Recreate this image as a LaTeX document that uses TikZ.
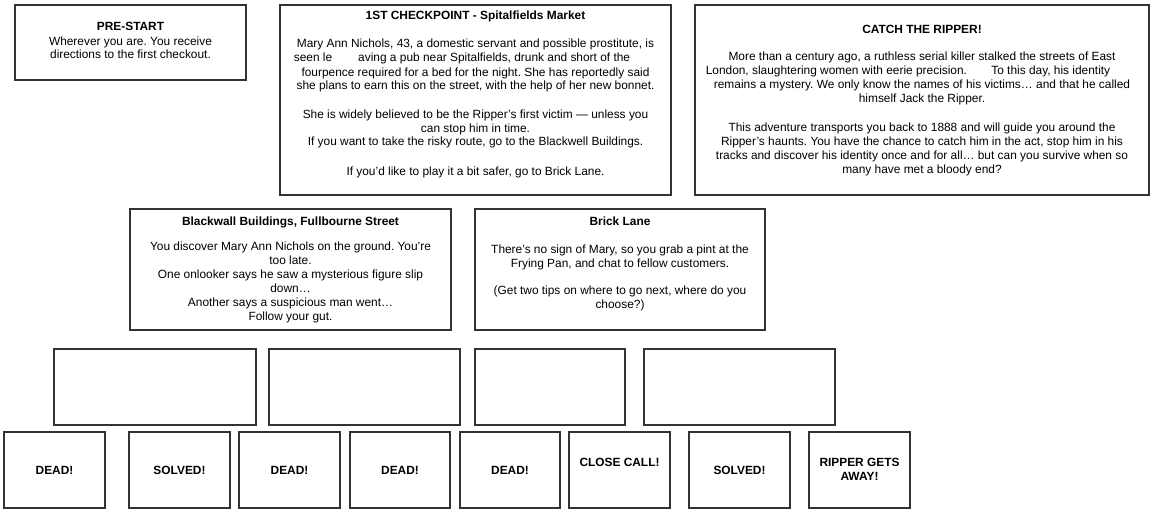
\documentclass[tikz,border=0pt]{standalone}
\usepackage{fontspec}
\setmainfont{Liberation Sans}
\frenchspacing
\newcommand{\cardlines}[1]{\begin{tabular}[t]{@{}c@{}}#1\end{tabular}}
\begin{document}
\begin{tikzpicture}[x=1pt,y=-1pt,
    card/.style={draw=black!80, line width=1.8pt, inner sep=0pt,
      font=\fontsize{11.9}{14}\selectfont},
    clue/.style={card, minimum height=76pt},
    ending/.style={card, minimum width=101pt, text height=42pt, text depth=34pt,
      font=\fontsize{11.9}{14.5}\selectfont\bfseries}]
  \useasboundingbox (0,0) rectangle (1174,527);
  % top row
  \node[card, minimum width=231pt, text height=26pt, text depth=49pt] (prestart) at (130.5,42.5)
    {\cardlines{\textbf{PRE-START}\\Wherever you are. You receive\\directions to the first checkout.}};
  \node[card, minimum width=391pt, text height=15pt, text depth=175pt] (spitalfields) at (475.5,100)
    {\cardlines{\textbf{1ST CHECKPOINT - Spitalfields Market}\\[14pt]
     Mary Ann Nichols, 43, a domestic servant and possible prostitute, is\\
     seen le\hspace*{26pt}aving a pub near Spitalfields, drunk and short of the\hspace*{27pt}\\
     fourpence required for a bed for the night. She has reportedly said\\
     she plans to earn this on the street, with the help of her new bonnet.\\[14pt]
     She is widely believed to be the Ripper's first victim --- unless you\\
     can stop him in time.\\
     If you want to take the risky route, go to the Blackwell Buildings.\\[15pt]
     If you'd like to play it a bit safer, go to Brick Lane.}};
  \node[card, minimum width=454pt, text height=29pt, text depth=161pt] (intro) at (922,100)
    {\cardlines{\textbf{CATCH THE RIPPER!}\\[13pt]
     More than a century ago, a ruthless serial killer stalked the streets of East\\
     London, slaughtering women with eerie precision.\hspace*{21pt} To this day, his identity\hspace*{28pt}\\
     remains a mystery. We only know the names of his victims… and that he called\\
     himself Jack the Ripper.\\[15pt]
     This adventure transports you back to 1888 and will guide you around the\\
     Ripper's haunts. You have the chance to catch him in the act, stop him in his\\
     tracks and discover his identity once and for all… but can you survive when so\\
     many have met a bloody end?}};
  % second row
  \node[card, minimum width=321pt, text height=16pt, text depth=105pt] (blackwall) at (290.5,269.5)
    {\cardlines{\textbf{Blackwall Buildings, Fullbourne Street}\\[11pt]
     You discover Mary Ann Nichols on the ground. You're\\
     too late.\\
     One onlooker says he saw a mysterious figure slip\\
     down…\\
     Another says a suspicious man went…\\
     Follow your gut.}};
  \node[card, minimum width=290pt, text height=16pt, text depth=105pt] (bricklane) at (620,269.5)
    {\cardlines{\textbf{Brick Lane}\\[14pt]
     There's no sign of Mary, so you grab a pint at the\\
     Frying Pan, and chat to fellow customers.\\[13pt]
     (Get two tips on where to go next, where do you\\
     choose?)}};
  % empty clue boxes
  \node[clue, minimum width=202pt] (clueA) at (155,387) {};
  \node[clue, minimum width=191pt] (clueB) at (364.5,387) {};
  \node[clue, minimum width=150pt] (clueC) at (550,387) {};
  \node[clue, minimum width=191pt] (clueD) at (739.5,387) {};
  % endings
  \node[ending] (endA) at (54.5,470) {DEAD!};
  \node[ending] (endB) at (179.5,470) {SOLVED!};
  \node[ending] (endC) at (289.5,470) {DEAD!};
  \node[ending, minimum width=100pt] (endD) at (400,470) {DEAD!};
  \node[ending, minimum width=100pt] (endE) at (510,470) {DEAD!};
  \node[ending, text height=34pt, text depth=42pt] (endF) at (619.5,470) {CLOSE CALL!};
  \node[ending] (endG) at (739.5,470) {SOLVED!};
  \node[ending, text height=34pt, text depth=42pt] (endH) at (859.5,470)
    {\cardlines{RIPPER GETS\\AWAY!}};
\end{tikzpicture}
\end{document}
